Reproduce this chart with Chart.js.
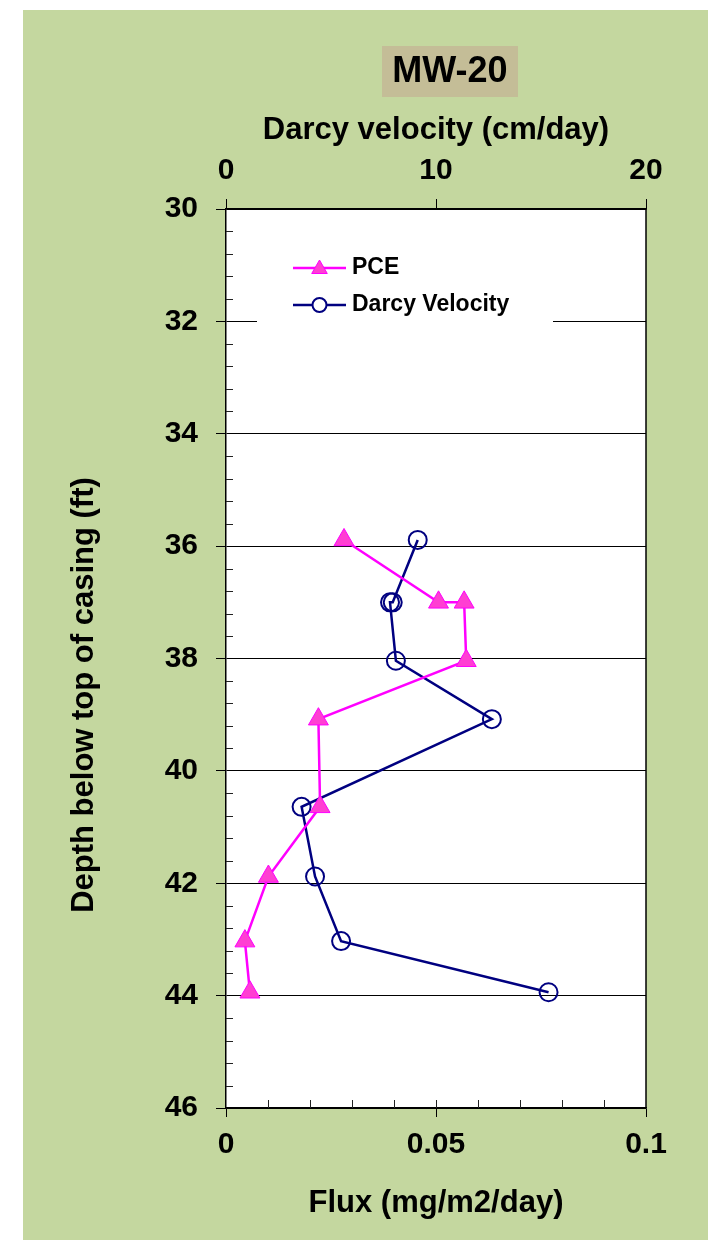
<!DOCTYPE html>
<html>
<head>
<meta charset="utf-8">
<script src="https://cdn.jsdelivr.net/npm/chart.js@4/dist/chart.umd.min.js"></script>
<style>
  html, body { margin: 0; padding: 0; background: #fff; }
  #panel { position: absolute; left: 23px; top: 10px; width: 685px; height: 1230px; background: #c4d79f; }
  canvas { display: block; }
</style>
</head>
<body>
<div id="panel"><canvas id="mwChart" width="685" height="1230"></canvas></div>
<script>
// sample depths (ft below top of casing), same for both series
const depthFt  = [35.89, 37.0, 37.0, 38.04, 39.08, 40.64, 41.88, 43.03, 43.94];
// PCE flux (mg/m2/day) - bottom axis
const pceFlux  = [0.0281, 0.0506, 0.0567, 0.0572, 0.0220, 0.0224, 0.0101, 0.0045, 0.0057];
// Darcy velocity (cm/day) - top axis
const darcyVel = [9.13, 7.94, 7.81, 8.09, 12.66, 3.60, 4.24, 5.48, 15.36];

const seriesNames = ['PCE', 'Darcy Velocity'];
const chartTitle = 'MW-20';
const yTitle = 'Depth below top of casing (ft)';
const topTitle = 'Darcy velocity (cm/day)';
const bottomTitle = 'Flux (mg/m2/day)';

const FONT = "'Liberation Sans', Arial, sans-serif";
Chart.defaults.font.family = FONT;
Chart.defaults.color = '#000';

const tickFont = { size: 30, weight: 'bold' };
const titleFont = { size: 31, weight: 'bold' };

// background, title box, rotated y title, minor ticks, border and legend
const decorPlugin = {
  id: 'decor',
  beforeDraw(chart) {
    const { ctx, chartArea: a } = chart;
    ctx.save();
    ctx.fillStyle = '#fff';
    ctx.fillRect(a.left, a.top, a.right - a.left, a.bottom - a.top);

    ctx.fillStyle = '#c4bd97';
    ctx.fillRect(359, 36, 136, 51);
    ctx.fillStyle = '#000';
    ctx.textAlign = 'center';
    ctx.textBaseline = 'middle';
    ctx.font = 'bold 36px ' + FONT;
    ctx.fillText(chartTitle, 427, 62);

    ctx.translate(61, 685);
    ctx.rotate(-Math.PI / 2);
    ctx.font = 'bold 31px ' + FONT;
    ctx.fillText(yTitle, 0, 0);
    ctx.restore();
  },
  afterDraw(chart) {
    const { ctx, chartArea: a, scales } = chart;
    ctx.save();
    ctx.strokeStyle = '#222';
    ctx.lineWidth = 1;
    ctx.beginPath();
    // minor ticks on depth axis, every 0.4 ft
    for (let i = 1; i < 40; i++) {
      if (i % 5 === 0) continue;
      const py = Math.round(scales.y.getPixelForValue(30 + i * 0.4)) + 0.5;
      ctx.moveTo(a.left, py);
      ctx.lineTo(a.left + 7, py);
    }
    // minor ticks on flux axis, every 0.01
    for (let i = 1; i < 10; i++) {
      const px = Math.round(scales.x.getPixelForValue(i * 0.01)) + 0.5;
      ctx.moveTo(px, a.bottom);
      ctx.lineTo(px, a.bottom - 8);
    }
    ctx.stroke();

    // right border of plot
    ctx.strokeStyle = '#000';
    ctx.lineWidth = 1.5;
    ctx.beginPath();
    ctx.moveTo(a.right, a.top);
    ctx.lineTo(a.right, a.bottom);
    ctx.stroke();

    // legend
    ctx.fillStyle = '#fff';
    ctx.fillRect(234, 226, 296, 96);
    const rows = [258, 295];
    chart.data.datasets.forEach((ds, i) => {
      const y = rows[i];
      const isTri = ds.pointStyle === 'triangle';
      ctx.strokeStyle = ds.borderColor;
      ctx.lineWidth = ds.borderWidth;
      ctx.beginPath();
      ctx.moveTo(270, y);
      ctx.lineTo(323, y);
      ctx.stroke();
      ctx.fillStyle = isTri ? ds.pointBackgroundColor : '#fff';
      ctx.strokeStyle = ds.pointBorderColor;
      ctx.lineWidth = ds.pointBorderWidth;
      Chart.helpers.drawPoint(ctx, {
        pointStyle: ds.pointStyle,
        radius: isTri ? 9 : 7,
        borderWidth: ds.pointBorderWidth,
        rotation: 0
      }, 296.5, y + (isTri ? 1 : 0));
      ctx.fillStyle = '#000';
      ctx.font = 'bold 23px ' + FONT;
      ctx.textAlign = 'left';
      ctx.textBaseline = 'middle';
      ctx.fillText(seriesNames[i], 329, y);
    });
    ctx.restore();
  }
};

const pcePoints = depthFt.map((d, i) => ({ x: pceFlux[i], y: d }));
const darcyPoints = depthFt.map((d, i) => ({ x: darcyVel[i], y: d }));

new Chart(document.getElementById('mwChart'), {
  type: 'scatter',
  data: {
    datasets: [{
      label: seriesNames[0],
      data: pcePoints,
      xAxisID: 'x',
      yAxisID: 'y',
      showLine: true,
      borderColor: '#ff00ff',
      borderWidth: 2.5,
      pointStyle: 'triangle',
      pointRadius: 11.5,
      pointBackgroundColor: '#ff3fd2',
      pointBorderColor: '#ff00ff',
      pointBorderWidth: 1
    }, {
      label: seriesNames[1],
      data: darcyPoints,
      xAxisID: 'x2',
      yAxisID: 'y',
      showLine: true,
      borderColor: '#000080',
      borderWidth: 2.5,
      pointStyle: 'circle',
      pointRadius: 9,
      pointBackgroundColor: 'rgba(0,0,0,0)',
      pointBorderColor: '#000080',
      pointBorderWidth: 2
    }]
  },
  options: {
    responsive: false,
    animation: false,
    layout: { padding: { left: 0, right: 62, top: 0, bottom: 0 } },
    plugins: {
      legend: { display: false },
      tooltip: { enabled: false }
    },
    scales: {
      y: {
        position: 'left',
        reverse: true,
        min: 30,
        max: 46,
        afterFit: s => { s.width = 203; },
        ticks: { stepSize: 2, font: tickFont, color: '#000', padding: 18 },
        grid: { color: '#000', lineWidth: 1, tickLength: 10, drawTicks: true },
        border: { display: true, color: '#000', width: 1.5 }
      },
      x: {
        position: 'bottom',
        min: 0,
        max: 0.1,
        afterFit: s => { s.height = 132; },
        ticks: {
          stepSize: 0.05, font: tickFont, color: '#000', padding: 10, maxRotation: 0,
          callback: v => String(Number(v.toFixed(3)))
        },
        grid: { drawOnChartArea: false, color: '#000', tickLength: 9 },
        border: { display: true, color: '#000', width: 1.5 },
        title: { display: true, text: bottomTitle, font: titleFont, color: '#000', padding: { top: 0, bottom: 18 } }
      },
      x2: {
        position: 'top',
        min: 0,
        max: 20,
        afterFit: s => { s.height = 199; },
        ticks: { stepSize: 10, font: tickFont, color: '#000', padding: 10, maxRotation: 0 },
        grid: { drawOnChartArea: false, color: '#000', tickLength: 10 },
        border: { display: true, color: '#000', width: 1.5 },
        title: { display: true, text: topTitle, font: titleFont, color: '#000', padding: { top: 102, bottom: 0 } }
      }
    }
  },
  plugins: [decorPlugin]
});
</script>
</body>
</html>
